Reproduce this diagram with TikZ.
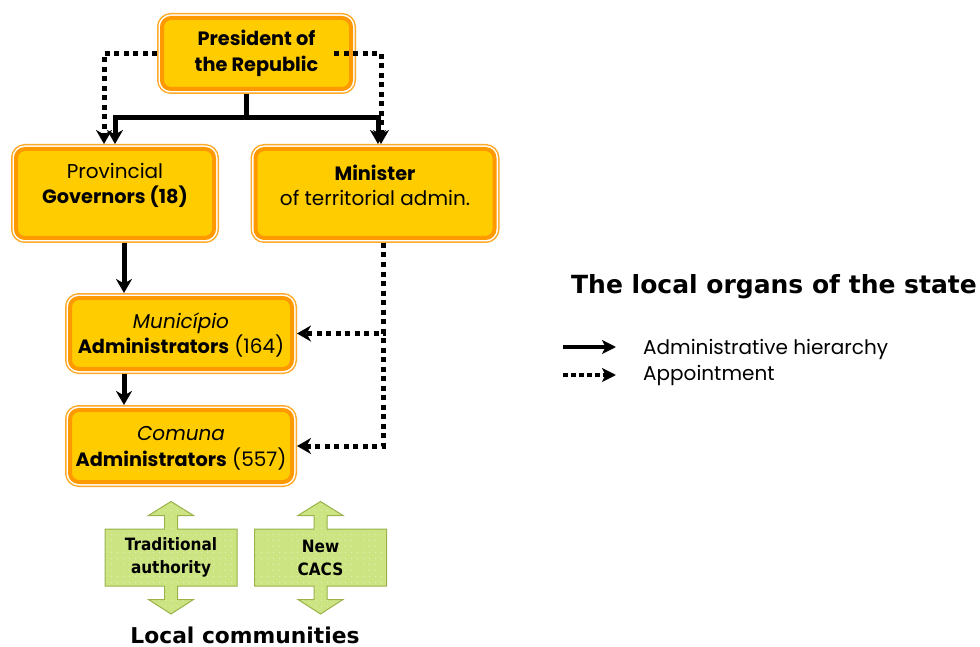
\documentclass[tikz,border=0pt]{standalone}
\usepackage{fontspec}
\setmainfont{Poppins}
\newfontfamily\dvfont{DejaVu Sans}
\newfontfamily\dvcfont{DejaVu Sans Condensed}
\usetikzlibrary{arrows.meta,calc}
\definecolor{boxyellow}{HTML}{FFCC00}
\definecolor{boxorange}{HTML}{FF9900}
\definecolor{ringorange}{HTML}{FFA928}
\definecolor{greenfill}{HTML}{CCE482}
\definecolor{greendot}{HTML}{E2F0B8}
\definecolor{greenline}{HTML}{9AB248}
\newcommand\bt[1]{{\fontsize{19.3}{25}\selectfont\bfseries #1}}
\begin{document}
\begin{tikzpicture}[x=1pt,y=-1pt,
  orgbox/.style={rounded corners=9pt, fill=boxyellow, draw=boxorange, line width=4pt,
     preaction={draw=ringorange, line width=10pt},
     preaction={draw=white, line width=7pt},
     inner sep=0pt, outer sep=5pt},
  orgtext/.style={align=center, font=\fontsize{20}{25.5}\selectfont, inner sep=0pt},
  hier/.style={line width=5pt, -{Stealth[length=14pt,width=16pt,inset=4.5pt]}},
  appoint/.style={line width=5pt, dash pattern=on 5pt off 4.5pt, -{Stealth[length=14pt,width=16pt,inset=4.5pt]}},
  greenlabel/.style={align=center, font=\dvcfont\bfseries\fontsize{17}{23}\selectfont, inner sep=0pt},
]
\useasboundingbox (0,0) rectangle (980,647);

% organ boxes
\node[orgbox, minimum width=189pt, minimum height=71pt] (pres) at (256.5,53.5) {};
\node[orgbox, minimum width=198pt, minimum height=89pt] (gov) at (115,193.5) {};
\node[orgbox, minimum width=239pt, minimum height=89pt] (min) at (375,193.5) {};
\node[orgbox, minimum width=222pt, minimum height=71pt] (mun) at (181,333.5) {};
\node[orgbox, minimum width=222pt, minimum height=72pt] (com) at (181,446) {};

\node[orgtext] (prest) at ($(pres)+(0,0)$) {\bt{President of}\\\bt{the Republic}};
\node[orgtext] (govt) at ($(gov)+(0,-8)$) {Provincial\\\bt{Governors (18)}};
\node[orgtext] (mint) at ($(min)+(0,-8)$) {\bt{Minister}\\of territorial admin.};
\node[orgtext] (munt) at ($(mun)+(0,1.5)$) {\textit{Município}\\\bt{Administrators} (164)};
\node[orgtext] (comt) at ($(com)+(0,2.5)$) {\textit{Comuna}\\\bt{Administrators} (557)};

% administrative hierarchy
\coordinate (pj) at ($(pres.south)+(-10.5,24)$);
\draw[line width=5pt] (pres.south -| pj) -- (pj);
\draw[hier] (pj) -| (gov.north);
\draw[hier] (pj) -| ($(min.north)+(3,0)$);
\coordinate (g1) at ($(gov.south)+(9,0)$);
\draw[hier] (g1) -- (g1 |- mun.north);
\coordinate (m1) at ($(mun.south)+(-57,0)$);
\draw[hier] (m1) -- (m1 |- com.north);

% appointment
\draw[appoint] (pres.west) -| ($(gov.north)+(-11,0)$);
\draw[appoint] ($(pres.east)+(-22,0)$) -| ($(min.north)+(6,0)$);
\coordinate (n1) at ($(min.south)+(8,0)$);
\draw[appoint] (n1) |- (mun.east);
\draw[appoint] (n1) |- (com.east);

% local community bodies
\foreach \cx in {171,320.5} {
  \begin{scope}[shift={(\cx,557.5)}]
    \path[fill=greenfill] (-6.5,-28.5) -- (-6.5,-42) -- (-22.5,-42) -- (0,-56) -- (22.5,-42)
      -- (6.5,-42) -- (6.5,-28.5) -- (66,-28.5) -- (66,28.5) -- (6.5,28.5) -- (6.5,42)
      -- (22.5,42) -- (0,56.5) -- (-22.5,42) -- (-6.5,42) -- (-6.5,28.5) -- (-66,28.5)
      -- (-66,-28.5) -- cycle;
    \begin{scope}
      \clip (-6.5,-28.5) -- (-6.5,-42) -- (-22.5,-42) -- (0,-56) -- (22.5,-42)
        -- (6.5,-42) -- (6.5,-28.5) -- (66,-28.5) -- (66,28.5) -- (6.5,28.5) -- (6.5,42)
        -- (22.5,42) -- (0,56.5) -- (-22.5,42) -- (-6.5,42) -- (-6.5,28.5) -- (-66,28.5)
        -- (-66,-28.5) -- cycle;
      \foreach \i in {-11,...,11} {
        \foreach \j in {-10,...,10} {
          \fill[greendot] (\i*6,\j*6) rectangle ++(1.3,1.3);
        }
      }
    \end{scope}
    \draw[greenline, line width=1pt] (-6.5,-28.5) -- (-6.5,-42) -- (-22.5,-42) -- (0,-56) -- (22.5,-42)
      -- (6.5,-42) -- (6.5,-28.5) -- (66,-28.5) -- (66,28.5) -- (6.5,28.5) -- (6.5,42)
      -- (22.5,42) -- (0,56.5) -- (-22.5,42) -- (-6.5,42) -- (-6.5,28.5) -- (-66,28.5)
      -- (-66,-28.5) -- cycle;
  \end{scope}
}
\node[greenlabel] (trad) at (171,557.5) {Traditional\\authority};
\node[greenlabel] (cacs) at (320.5,557.5) {New\\CACS};
\node[font=\dvfont\bfseries\fontsize{21.8}{26}\selectfont, inner sep=0pt, anchor=base] (local) at (245,643.5) {Local communities};

% title and legend
\node[font=\dvfont\bfseries\fontsize{25}{30}\selectfont, inner sep=0pt] (title) at (774,287) {The local organs of the state};
\coordinate (l1a) at (563,347);
\coordinate (l1b) at (616,347);
\coordinate (l2a) at (563,375);
\coordinate (l2b) at (616,375);
\draw[line width=4pt, -{Stealth[length=14pt,width=14pt,inset=3.5pt]}] (l1a) -- (l1b);
\draw[line width=4pt, dash pattern=on 5pt off 3pt, -{Stealth[length=14pt,width=14pt,inset=3.5pt]}] (l2a) -- (l2b);
\node[anchor=west, font=\fontsize{20}{24}\selectfont, inner sep=0pt] (lt1) at (643,349) {Administrative hierarchy};
\node[anchor=west, font=\fontsize{20}{24}\selectfont, inner sep=0pt] (lt2) at (643,375) {Appointment};
\end{tikzpicture}
\end{document}
